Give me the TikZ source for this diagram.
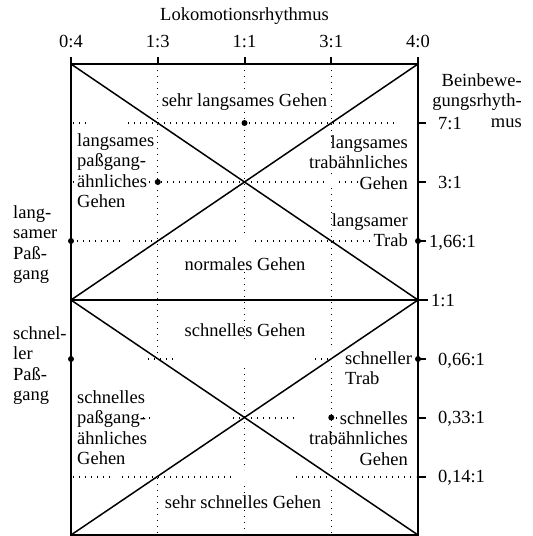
\documentclass[tikz,border=0pt]{standalone}
\usepackage{fontspec}
\setmainfont{Liberation Serif}
\begin{document}
\begin{tikzpicture}[x=1pt,y=-1pt,
  frame/.style={line width=2pt},
  diag/.style={line width=1.5pt},
  gridline/.style={line width=1.3pt, dash pattern=on 1.3pt off 4.7pt},
  marker/.style={fill=black},
  txt/.style={font=\fontsize{18.5}{20.5}\selectfont, inner sep=0pt},
  lft/.style={txt, align=left, anchor=north west},
  rgt/.style={txt, align=right, anchor=north east},
]
\useasboundingbox (0,0) rectangle (533,536);

% corner and grid points
\coordinate (TL) at (71,64);
\coordinate (TR) at (418,64);
\coordinate (ML) at (71,300);
\coordinate (MR) at (418,300);
\coordinate (BL) at (71,535);
\coordinate (BR) at (418,535);
\coordinate (MRend) at (428,300);

% dotted grid: columns
\draw[gridline] (157.75,64) -- (157.75,360);
\draw[gridline] (157.75,478) -- (157.75,535);
\draw[gridline] (244.5,64) -- (244.5,92);
\draw[gridline] (244.5,112) -- (244.5,237);
\draw[gridline] (244.5,272) -- (244.5,342);
\draw[gridline] (244.5,368) -- (244.5,470);
\draw[gridline] (244.5,486) -- (244.5,535);
\draw[gridline] (331.25,64) -- (331.25,148);
\draw[gridline] (331.25,167) -- (331.25,176);
\draw[gridline] (331.25,188) -- (331.25,350);
\draw[gridline] (331.25,366) -- (331.25,472);
\draw[gridline] (331.25,490) -- (331.25,535);

% dotted grid: rows
\draw[gridline] (73,123) -- (90,123);
\draw[gridline] (128,123) -- (240,123);
\draw[gridline] (249,123) -- (398,123);
\draw[gridline] (73,182) -- (74,182);
\draw[gridline] (149,182) -- (150,182);
\draw[gridline] (161,182) -- (325,182);
\draw[gridline] (339,182) -- (363,182);
\draw[gridline] (77,241) -- (122,241);
\draw[gridline] (133,241) -- (237,241);
\draw[gridline] (255,241) -- (373,241);
\draw[gridline] (148,359) -- (175,359);
\draw[gridline] (315,359) -- (328,359);
\draw[gridline] (143,418) -- (150,418);
\draw[gridline] (233,418) -- (297,418);
\draw[gridline] (336,418) -- (341,418);
\draw[gridline] (73,477) -- (110,477);
\draw[gridline] (122,477) -- (232,477);
\draw[gridline] (296,477) -- (416,477);

% frame with ticks
\draw[frame] (71,57) -- (BL) -- (BR) -- (418,57);
\draw[frame] (TL) -- (TR);
\draw[frame] (ML) -- (MRend);
\foreach \x in {157.75,244.5,331.25} \draw[frame] (\x,57) -- (\x,64);
\foreach \y in {123,182,241,359,417.5,476.5} \draw[frame] (418,\y) -- (426,\y);

% diagonals
\draw[diag] (TL) -- (MR);
\draw[diag] (TR) -- (ML);
\draw[diag] (ML) -- (BR);
\draw[diag] (MR) -- (BL);

% marked points
\foreach \p in {(244.5,123),(157.75,182),(71,241),(418,241),(71,359),(418,359),(331.25,417.5)}
  \fill[marker] \p circle (3pt);

% axis titles and tick labels
\node[txt, anchor=base] (title) at (244.5,20) {Lokomotionsrhythmus};
\node[txt, anchor=base] (c0) at (71,47) {0:4};
\node[txt, anchor=base] (c1) at (157.75,47) {1:3};
\node[txt, anchor=base] (c2) at (244.5,47) {1:1};
\node[txt, anchor=base] (c3) at (331.25,47) {3:1};
\node[txt, anchor=base] (c4) at (418,47) {4:0};
\node[rgt] (ytitle) at (522,73) {Beinbewe-\\gungsrhyth-\\mus};

\node[txt, anchor=base west] (r1) at (438,129) {7:1};
\node[txt, anchor=base west] (r2) at (438,188) {3:1};
\node[txt, anchor=base west] (r3) at (429,247) {1,66:1};
\node[txt, anchor=base west] (r4) at (431,306) {1:1};
\node[txt, anchor=base west] (r5) at (438,365) {0,66:1};
\node[txt, anchor=base west] (r6) at (438,423.5) {0,33:1};
\node[txt, anchor=base west] (r7) at (438,482.5) {0,14:1};

% gait regions
\node[txt, anchor=base] (g1) at (244.5,106.5) {sehr langsames Gehen};
\node[lft] (g2) at (77,133) {langsames\\paßgang-\\ähnliches\\Gehen};
\node[rgt] (g3) at (408,135) {langsames\\trabähnliches\\Gehen};
\node[rgt] (g4) at (408,213) {langsamer\\Trab};
\node[txt, anchor=base] (g5) at (245,270.5) {normales Gehen};
\node[txt, anchor=base] (g6) at (245,336.5) {schnelles Gehen};
\node[lft] (g7) at (345,351) {schneller\\Trab};
\node[lft] (g8) at (77,390) {schnelles\\paßgang-\\ähnliches\\Gehen};
\node[rgt] (g9) at (408,411) {schnelles\\trabähnliches\\Gehen};
\node[txt, anchor=base] (g10) at (243,508.5) {sehr schnelles Gehen};

% side labels
\node[lft] (s1) at (13,205) {lang-\\samer\\Paß-\\gang};
\node[lft] (s2) at (13,326) {schnel-\\ler\\Paß-\\gang};
\end{tikzpicture}
\end{document}
